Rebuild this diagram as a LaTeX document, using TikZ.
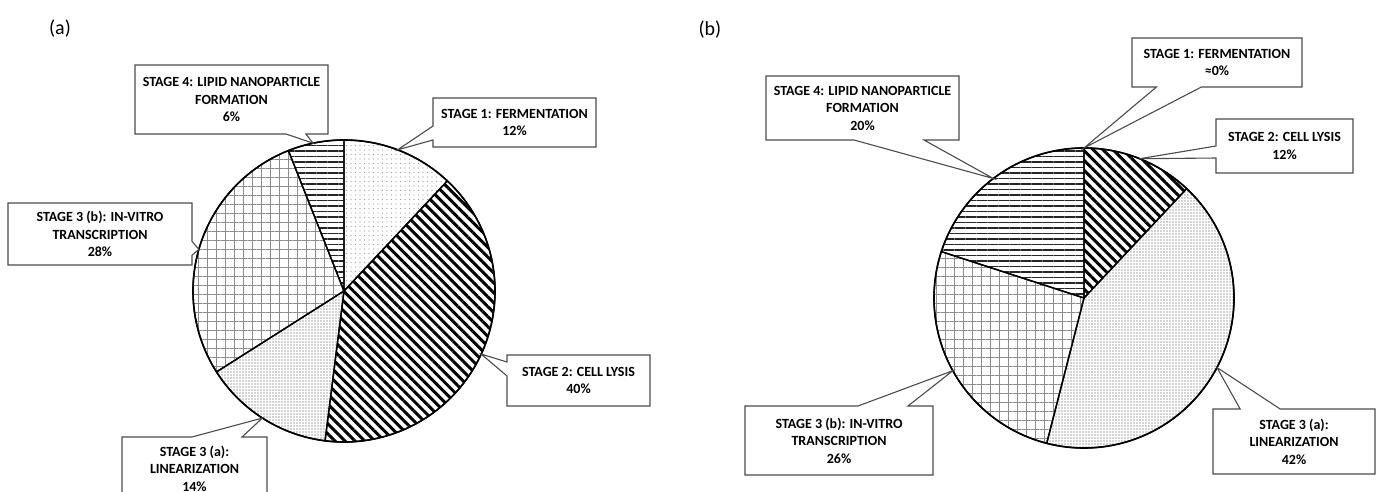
\documentclass[tikz,border=0pt]{standalone}
\usepackage{fontspec}
\setmainfont{Carlito}
\usetikzlibrary{calc,patterns.meta,shapes.callouts}

\begin{document}
\begin{tikzpicture}[x=1pt,y=1pt,
    stagelabel/.style={rectangle callout,draw=black!70,line width=1.1pt,fill=white,
      inner sep=0pt,align=center,font=\bfseries\fontsize{14}{17.5}\selectfont},
    slice/.style={draw=black,line width=1.4pt,line join=round},
    fermentfill/.style={pattern={Dots[radius=0.55pt,distance=4.5pt]},pattern color=black!40},
    lysisfill/.style={pattern={Lines[angle=-45,distance=7pt,line width=3pt]},pattern color=black},
    linearfill/.style={pattern={Dots[radius=0.7pt,distance=3pt]},pattern color=black!72},
    transcfill/.style={pattern={Hatch[angle=0,distance=9pt,line width=0.7pt]},pattern color=black!45},
    lipidfill/.style={pattern={Lines[angle=0,distance=5.5pt,line width=1.8pt]},pattern color=black!85}]
  \useasboundingbox (0,0) rectangle (1379,492);
  \clip (0,0) rectangle (1379,492);% Clips the picture to the page

  % ----- (a) -----
  \coordinate (CenterA) at (344,201);
  \node[font=\fontsize{20}{24}\selectfont] (TagA) at (60,463) {(a)};
  \draw[slice,fermentfill] (CenterA) -- ++(90:151) arc[start angle=90,end angle=46.8,radius=151] -- cycle;
  \draw[slice,lysisfill] (CenterA) -- ++(46.8:151) arc[start angle=46.8,end angle=-97.2,radius=151] -- cycle;
  \draw[slice,linearfill] (CenterA) -- ++(-97.2:151) arc[start angle=-97.2,end angle=-147.6,radius=151] -- cycle;
  \draw[slice,transcfill] (CenterA) -- ++(-147.6:151) arc[start angle=-147.6,end angle=-248.4,radius=151] -- cycle;
  \draw[slice,lipidfill] (CenterA) -- ++(-248.4:151) arc[start angle=-248.4,end angle=-270,radius=151] -- cycle;
  \draw[line width=1.6pt] (CenterA) circle[radius=151];

  \coordinate (TipAOne)   at ($(CenterA)+(69.2:151)$);
  \coordinate (TipATwo)   at ($(CenterA)+(-24.7:151)$);
  \coordinate (TipAThree) at ($(CenterA)+(-122.7:151)$);
  \coordinate (TipAFour)  at ($(CenterA)+(164:151)$);
  \coordinate (TipAFive)  at ($(CenterA)+(101.8:151)$);

  \node[stagelabel,minimum width=163pt,minimum height=49pt,callout absolute pointer={(TipAOne)},callout pointer width=14pt]
    (LabelAOne) at (514.5,369.5) {STAGE 1: FERMENTATION\\12\%};
  \node[stagelabel,minimum width=143pt,minimum height=51pt,callout absolute pointer={(TipATwo)},callout pointer width=14pt]
    (LabelATwo) at (578.5,111.5) {STAGE 2: CELL LYSIS\\40\%};
  \node[stagelabel,minimum width=145pt,minimum height=63pt,callout absolute pointer={(TipAThree)},callout pointer width=50pt]
    (LabelAThree) at (194.5,23.5) {STAGE 3 (a):\\LINEARIZATION\\14\%};
  \node[stagelabel,minimum width=184pt,minimum height=62pt,callout absolute pointer={(TipAFour)},callout pointer width=14pt]
    (LabelAFour) at (100,258) {STAGE 3 (b): IN-VITRO\\TRANSCRIPTION\\28\%};
  \node[stagelabel,minimum width=193pt,minimum height=69pt,callout absolute pointer={(TipAFive)},callout pointer width=20pt]
    (LabelAFive) at (231.5,392.5) {STAGE 4: LIPID NANOPARTICLE\\FORMATION\\6\%};

  % ----- (b) -----
  \coordinate (CenterB) at (1084,194);
  \node[font=\fontsize{20}{24}\selectfont] (TagB) at (710,462) {(b)};
  \draw[slice,lysisfill] (CenterB) -- ++(90:150) arc[start angle=90,end angle=46.8,radius=150] -- cycle;
  \draw[slice,linearfill] (CenterB) -- ++(46.8:150) arc[start angle=46.8,end angle=-104.4,radius=150] -- cycle;
  \draw[slice,transcfill] (CenterB) -- ++(-104.4:150) arc[start angle=-104.4,end angle=-198,radius=150] -- cycle;
  \draw[slice,lipidfill] (CenterB) -- ++(-198:150) arc[start angle=-198,end angle=-270,radius=150] -- cycle;
  \draw[line width=1.6pt] (CenterB) circle[radius=150];

  \coordinate (TipBOne)   at ($(CenterB)+(90:150)$);
  \coordinate (TipBTwo)   at ($(CenterB)+(68.2:150)$);
  \coordinate (TipBThree) at ($(CenterB)+(-27.6:150)$);
  \coordinate (TipBFour)  at ($(CenterB)+(-151:150)$);
  \coordinate (TipBFive)  at ($(CenterB)+(127.2:150)$);

  \node[stagelabel,minimum width=170pt,minimum height=49pt,callout absolute pointer={(TipBOne)},callout pointer width=45pt]
    (LabelBOne) at (1217,429.5) {STAGE 1: FERMENTATION\\≈0\%};
  \node[stagelabel,minimum width=137pt,minimum height=54pt,callout absolute pointer={(TipBTwo)},callout pointer width=12pt]
    (LabelBTwo) at (1284.5,346) {STAGE 2: CELL LYSIS\\12\%};
  \node[stagelabel,minimum width=162pt,minimum height=65pt,callout absolute pointer={(TipBThree)},callout pointer width=40pt]
    (LabelBThree) at (1294,50.5) {STAGE 3 (a):\\LINEARIZATION\\42\%};
  \node[stagelabel,minimum width=188pt,minimum height=69pt,callout absolute pointer={(TipBFour)},callout pointer width=50pt]
    (LabelBFour) at (839,51.5) {STAGE 3 (b): IN-VITRO\\TRANSCRIPTION\\26\%};
  \node[stagelabel,minimum width=193pt,minimum height=64pt,callout absolute pointer={(TipBFive)},callout pointer width=70pt]
    (LabelBFive) at (862.5,384) {STAGE 4: LIPID NANOPARTICLE\\FORMATION\\20\%};
\end{tikzpicture}
\end{document}
